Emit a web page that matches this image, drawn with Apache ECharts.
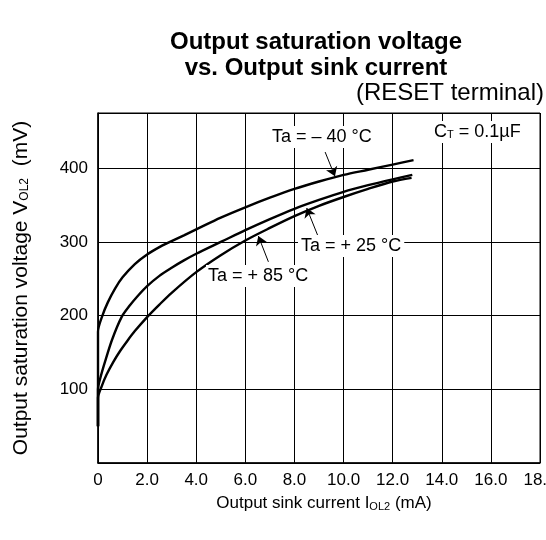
<!DOCTYPE html>
<html><head><meta charset="utf-8">
<script src="https://cdn.jsdelivr.net/npm/echarts@6/dist/echarts.min.js"></script>
<style>html,body{margin:0;padding:0;background:#fff}#c{width:546px;height:540px}</style>
</head><body><div id="c"></div>
<script>
const FONT = '"Liberation Sans", Arial, Helvetica, sans-serif';

// x axis (mA) and y axis (mV) ticks
const xTickValues = [0, 2, 4, 6, 8, 10, 12, 14, 16, 18];
const xTickLabels = ['0', '2.0', '4.0', '6.0', '8.0', '10.0', '12.0', '14.0', '16.0', '18.0'];
const yTickValues = [100, 200, 300, 400];
const yTickLabels = ['100', '200', '300', '400'];

// Ta = -40 °C
const currentM40 = [0, 0, 0.18, 0.4, 0.7, 1.0, 1.5, 2.0, 2.5, 2.93, 3.5, 4, 5, 6, 7, 8, 9, 10, 11, 12, 12.85];
const voltageM40 = [50, 178, 200, 218, 237, 252, 270, 283, 293, 300, 309, 317, 333, 347, 360, 372, 382, 391, 398, 405, 411];
// Ta = +25 °C
const currentP25 = [0, 0, 0.1, 0.29, 0.58, 0.96, 1.3, 1.6, 2, 2.5, 3, 3.5, 4, 5, 6, 7, 8, 9, 10, 11, 12, 12.8];
const voltageP25 = [50, 100, 116, 138, 168, 198, 214, 226, 240, 254, 265, 275, 284, 300, 316, 331, 345, 357, 368, 377, 385, 391];
// Ta = +85 °C
const currentP85 = [0, 0, 0.15, 0.35, 0.62, 0.9, 1.2, 1.5, 2, 2.5, 3, 4, 5, 6, 7, 8, 9, 10, 11, 12, 12.77];
const voltageP85 = [50, 88, 104, 120, 137, 152, 166, 179, 198, 215, 231, 259, 282, 302, 319, 335, 349, 361, 372, 382, 387];

const seriesNames = ['Ta = \u2013 40 \u00B0C', 'Ta = + 25 \u00B0C', 'Ta = + 85 \u00B0C'];
// arrow annotations: [tailX, tailY, tipX, tipY] in data units
const arrowM40 = [9.25, 422, 9.65, 389];
const arrowP25 = [8.97, 307, 8.5, 346];
const arrowP85 = [6.94, 273, 6.53, 308];

const pair = (xs, ys) => xs.map((x, i) => [x, ys[i]]);
const arrow = a => [[{coord: [a[0], a[1]]}, {coord: [a[2], a[3]]}]];

const chart = echarts.init(document.getElementById('c'), null, {renderer: 'canvas'});

function mkSeries(name, data, arr) {
  return {
    name, type: 'line', data, smooth: 0.3, showSymbol: false, symbol: 'none',
    lineStyle: {color: '#000', width: 2.4}, z: 5, silent: true, animation: false,
    markLine: {
      silent: true, animation: false, symbol: ['none', 'arrow'], symbolSize: 9,
      lineStyle: {color: '#000', width: 1, type: 'solid'}, label: {show: false},
      data: arrow(arr)
    }
  };
}

const xNameRich = {
  n: {fontSize: 17, fontFamily: FONT, color: '#000'},
  s: {fontSize: 11, fontFamily: FONT, color: '#000', padding: [6, 0, 0, 0]}
};
const yNameRich = {
  n: {fontSize: 21, fontFamily: FONT, color: '#000'},
  s: {fontSize: 12, fontFamily: FONT, color: '#000', padding: [7, 0, 0, 0]}
};

const option = {
  backgroundColor: '#fff',
  animation: false,
  textStyle: {fontFamily: FONT},
  grid: {left: 98, right: 6, top: 113, bottom: 77, containLabel: false, outerBoundsMode: 'none',
    show: true, borderColor: '#000', borderWidth: 1, backgroundColor: 'transparent'},
  xAxis: {
    type: 'value', min: 0, max: 18, interval: 2,
    axisLine: {show: true, lineStyle: {color: '#000', width: 1.5}},
    axisTick: {show: false},
    splitLine: {show: true, lineStyle: {color: '#000', width: 1}},
    axisLabel: {color: '#000', fontSize: 17, fontFamily: FONT, margin: 9, hideOverlap: false,
      formatter: v => { const i = xTickValues.indexOf(v); return i >= 0 ? xTickLabels[i] : ''; }},
    name: '{n|Output sink current I}{s|OL2}{n| (mA)}',
    nameLocation: 'middle', nameGap: 32,
    nameTextStyle: {rich: xNameRich, padding: [0, 0, 0, 10]}
  },
  yAxis: {
    type: 'value', min: 0, max: 475, interval: 100,
    axisLine: {show: true, lineStyle: {color: '#000', width: 1.5}},
    axisTick: {show: false},
    splitLine: {show: true, lineStyle: {color: '#000', width: 1}},
    axisLabel: {color: '#000', fontSize: 17, fontFamily: FONT, margin: 10,
      formatter: v => { const i = yTickValues.indexOf(v); return i >= 0 ? yTickLabels[i] : ''; }},
    name: '{n|Output saturation voltage V}{s|OL2}{n|  (mV)}',
    nameLocation: 'middle', nameGap: 66, nameRotate: 90,
    nameTextStyle: {rich: yNameRich}
  },
  series: [
    mkSeries(seriesNames[0], pair(currentM40, voltageM40), arrowM40),
    mkSeries(seriesNames[1], pair(currentP25, voltageP25), arrowP25),
    mkSeries(seriesNames[2], pair(currentP85, voltageP85), arrowP85)
  ],
  graphic: [
    {type: 'text', x: 316, y: 29, z: 10, style: {
      text: 'Output saturation voltage\nvs. Output sink current',
      font: 'bold 24px ' + FONT, fill: '#000', align: 'center', verticalAlign: 'top', lineHeight: 26}},
    {type: 'text', x: 544, y: 81, z: 10, style: {text: '(RESET terminal)', font: '24px ' + FONT, fill: '#000', align: 'right', verticalAlign: 'top'}},
    {type: 'text', left: 270, top: 126, z: 10, style: {text: seriesNames[0], font: '18px ' + FONT, fill: '#000', backgroundColor: '#fff', padding: [2, 2, 2, 2]}},
    {type: 'text', left: 298, top: 235, z: 10, style: {text: seriesNames[1], font: '18px ' + FONT, fill: '#000', backgroundColor: '#fff', padding: [2, 3, 2, 3]}},
    {type: 'text', left: 206, top: 265, z: 10, style: {text: seriesNames[2], font: '18px ' + FONT, fill: '#000', backgroundColor: '#fff', padding: [2, 2, 2, 2]}},
    {type: 'text', left: 431, top: 121, z: 10, style: {
      text: '{n|C}{s|T}{n| = 0.1\u00B5F}', backgroundColor: '#fff', padding: [2, 3, 2, 3],
      rich: {n: {fontSize: 18, fontFamily: FONT, color: '#000'}, s: {fontSize: 11, fontFamily: FONT, color: '#000', padding: [6, 0, 0, 0]}}}}
  ]
};
chart.setOption(option);
</script></body></html>
